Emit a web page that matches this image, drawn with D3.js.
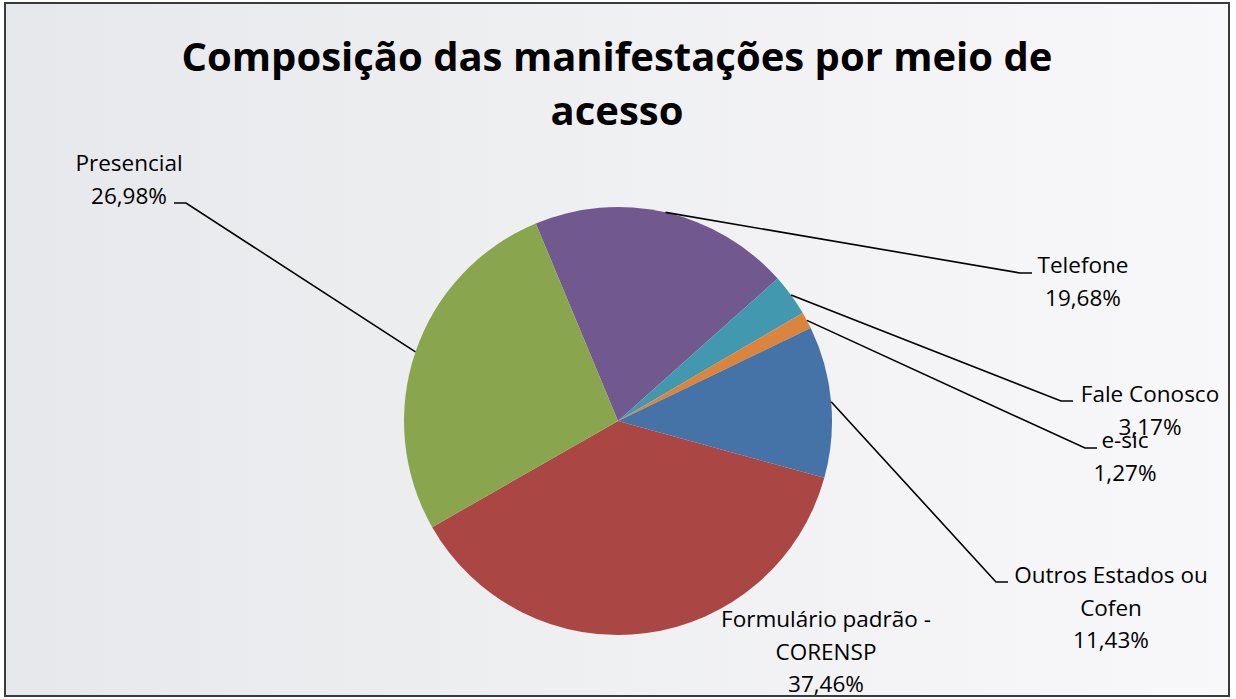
<!DOCTYPE html>
<html>
<head>
<meta charset="utf-8">
<script src="https://cdn.jsdelivr.net/npm/d3@7"></script>
<style>
  html, body { margin: 0; padding: 0; background: #ffffff; }
  svg { display: block; }
  text { font-family: "Open Sans", "Noto Sans", sans-serif; fill: #000; }
</style>
</head>
<body>
<svg id="chart" width="1236" height="699"></svg>
<script>
// ---- data ----
const categories = ["Telefone", "Fale Conosco", "e-sic", "Outros Estados ou Cofen", "Formulário padrão - CORENSP", "Presencial"];
const values = [19.68, 3.17, 1.27, 11.43, 37.46, 26.98];
const labelLines = [["Telefone"], ["Fale Conosco"], ["e-sic"], ["Outros Estados ou", "Cofen"], ["Formulário padrão -", "CORENSP"], ["Presencial"]];
const titleLines = ["Composição das manifestações por meio de", "acesso"];

// ---- styles / layout ----
const colors = ["#71588F", "#4198AF", "#DB843D", "#4572A7", "#AA4643", "#89A54E"];
const cx = 618, cy = 421, R = 214;
const startDeg = -22.6;
// label anchor (center x, first baseline) and leader elbow (x1 -> x2 horizontal at y)
const labelPos = [
  { x: 1083, y: 273, elbow: [1020, 1032, 273] },
  { x: 1150, y: 402, elbow: [1061, 1073, 401] },
  { x: 1125, y: 448, elbow: [1085, 1097, 448] },
  { x: 1111, y: 583, elbow: [996, 1008, 582] },
  { x: 826, y: 627, elbow: null },
  { x: 129, y: 171, elbow: [186, 174, 203] }
];
const lineH = 32.5;

const svg = d3.select("#chart");
const defs = svg.append("defs");
const grad = defs.append("linearGradient").attr("id", "bg").attr("x1", "0%").attr("x2", "100%").attr("y1", "0%").attr("y2", "0%");
grad.append("stop").attr("offset", "0%").attr("stop-color", "#e7e8eb");
grad.append("stop").attr("offset", "100%").attr("stop-color", "#f8f8fa");

svg.append("rect").attr("x", 5).attr("y", 3).attr("width", 1224).attr("height", 693)
  .attr("fill", "url(#bg)").attr("stroke", "#3a3a3a").attr("stroke-width", 2);

// title
svg.append("g").selectAll("text").data(titleLines).join("text")
  .attr("x", 617).attr("y", (d, i) => 71 + i * 54)
  .attr("text-anchor", "middle")
  .style("font-weight", "bold").style("font-size", "40px")
  .text(d => d);

// pie
const data = categories.map((c, i) => ({ name: c, value: values[i], idx: i }));
const start = startDeg * Math.PI / 180;
const pie = d3.pie().sort(null).value(d => d.value).startAngle(start).endAngle(start + 2 * Math.PI);
const arcs = pie(data);
const arc = d3.arc().innerRadius(0).outerRadius(R);

const g = svg.append("g").attr("transform", `translate(${cx},${cy})`);
g.selectAll("path").data(arcs).join("path")
  .attr("d", arc)
  .attr("fill", d => colors[d.data.idx]);

// leader lines
const fmt = v => d3.format(".2f")(v).replace(".", ",") + "%";
arcs.forEach(a => {
  const p = labelPos[a.data.idx];
  if (!p.elbow) return;
  const mid = (a.startAngle + a.endAngle) / 2;
  const px = cx + R * Math.sin(mid), py = cy - R * Math.cos(mid);
  const [x1, x2, y] = p.elbow;
  svg.append("path")
    .attr("d", `M${px},${py}L${x1},${y}L${x2},${y}`)
    .attr("fill", "none").attr("stroke", "#000").attr("stroke-width", 1.6);
});

// labels
arcs.forEach(a => {
  const i = a.data.idx;
  const p = labelPos[i];
  const lines = labelLines[i].concat([fmt(a.data.value)]);
  svg.append("g").selectAll("text").data(lines).join("text")
    .attr("x", p.x).attr("y", (d, k) => p.y + k * lineH)
    .attr("text-anchor", "middle")
    .style("font-size", "22.5px")
    .text(d => d);
});
</script>
</body>
</html>
